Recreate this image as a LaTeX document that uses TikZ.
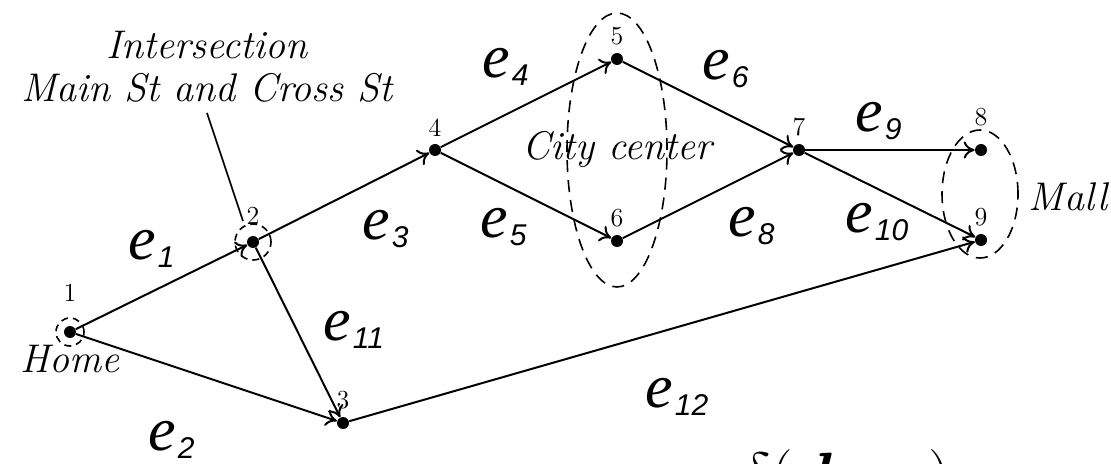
\RequirePackage{fix-cm}
\documentclass[tikz,border=0pt]{standalone}
\usepackage{amsmath}
\usepackage{fontspec}
\newfontfamily\elfont{Liberation Serif}
\newfontfamily\esfont{Liberation Sans}
\usetikzlibrary{arrows.meta}

\tikzset{
  junction/.style={circle, fill, inner sep=0pt, minimum size=6pt},
  road/.style={-{To[length=5.5pt, width=8.5pt]}, line width=1pt},
  num/.style={font=\fontsize{13}{15}\selectfont},
  place/.style={font=\fontsize{20}{21.5}\selectfont\itshape},
  zone/.style={dash pattern=on 6pt off 4pt, line width=0.8pt},
  spot/.style={dash pattern=on 3.5pt off 2.5pt, line width=0.8pt},
  elab/.style={anchor=base west, inner sep=0pt}
}
\newcommand{\edge}[1]{{\elfont\itshape\fontsize{31}{31}\selectfont e}\hspace{1pt}%
  \raisebox{-4pt}{\esfont\itshape\fontsize{15}{15}\selectfont #1}}

\begin{document}
\begin{tikzpicture}[x=0.5pt, y=-0.5pt]
  \useasboundingbox (0,0) rectangle (1111,464);
  \clip (0,0) rectangle (1111,464);

  % Junctions
  \node[junction, label={[num, label distance=8.5pt]above:1},
        label={[place, label distance=0pt]below:Home}] (n1) at (70,332) {};
  \node[junction, label={[num, label distance=2pt]above:2}] (n2) at (253,242) {};
  \node[junction, label={[num]above:3}] (n3) at (343,423) {};
  \node[junction, label={[num]above:4}] (n4) at (435,150) {};
  \node[junction, label={[num]above:5}] (n5) at (617,59) {};
  \node[junction, label={[num]above:6}] (n6) at (617,241) {};
  \node[junction, label={[num]above:7}] (n7) at (799,150) {};
  \node[junction, label={[num, label distance=5pt]above:8}] (n8) at (981,150) {};
  \node[junction, label={[num]above:9}] (n9) at (981,240) {};

  % Dashed areas
  \draw[spot] (n1) circle (7pt);
  \draw[spot] (n2) circle (9pt);
  \draw[zone] (617,150) ellipse [x radius=25pt, y radius=68.5pt];
  \draw[zone] (980,194) ellipse [x radius=19pt, y radius=32pt];

  % Roads
  \draw[road] (n1) -- (n2);
  \draw[road] (n1) -- (n3);
  \draw[road] (n2) -- (n3);
  \draw[road] (n2) -- (n4);
  \draw[road] (n4) -- (n5);
  \draw[road] (n4) -- (n6);
  \draw[road] (n5) -- (n7);
  \draw[road] (n6) -- (n7);
  \draw[road] (n7) -- (n8);
  \draw[road] (n7) -- (n9);
  \draw[road] (n3) -- (n9);

  % Place names
  \node[place, align=center, anchor=south, inner sep=5pt] (isect) at (207,113)
       {Intersection\\Main St and Cross St};
  \coordinate (ptr) at (243,221);
  \draw[line width=0.8pt] (isect.south) -- (ptr);
  \node[place] (city) at (617,150) {City center};
  \node[place] (mall) at (1068,197) {Mall};

  % Edge labels
  \node[elab] (e1) at (128,260) {\edge{1}};
  \node[elab] (e2) at (148,450) {\edge{2}};
  \node[elab] (e3) at (362,240) {\edge{3}};
  \node[elab] (e4) at (482,78) {\edge{4}};
  \node[elab] (e5) at (480,238) {\edge{5}};
  \node[elab] (e6) at (702,80) {\edge{6}};
  \node[elab] (e8) at (728,237) {\edge{8}};
  \node[elab] (e9) at (855,132) {\edge{9}};
  \node[elab] (e10) at (845,233) {\edge{10}};
  \node[elab] (e11) at (323,340) {\edge{11}};
  \node[elab] (e12) at (645,407) {\edge{12}};

  % Formula cut off at the bottom edge
  \node[anchor=base west, inner sep=0pt, font=\fontsize{32}{38}\selectfont] (cost)
       at (740,497) {$\delta(\boldsymbol{d}_{ij}\hspace{30pt})$};
\end{tikzpicture}
\end{document}
